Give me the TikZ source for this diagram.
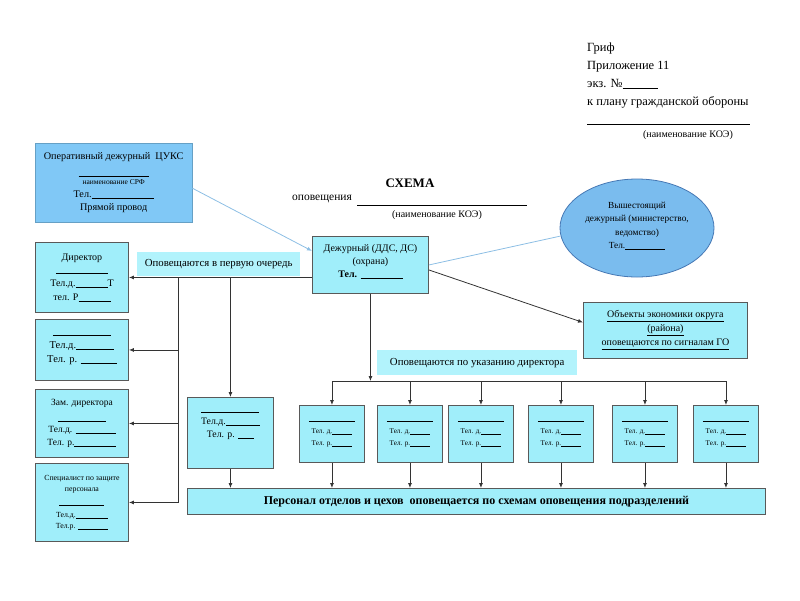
\documentclass[tikz,border=0pt]{standalone}
\usepackage{fontspec}
\setmainfont{Liberation Serif}
\usetikzlibrary{arrows.meta,shapes.geometric}
\definecolor{cyanbox}{RGB}{160,238,250}
\definecolor{lblfill}{RGB}{178,243,252}
\definecolor{cuksfill}{RGB}{128,200,246}
\definecolor{ellfill}{RGB}{122,188,238}
\definecolor{ellbord}{RGB}{70,120,180}
\definecolor{conn}{RGB}{140,190,228}
\newcommand\blank[1]{\rule[-1pt]{#1}{0.5pt}}
\newcommand\fs[2]{\fontsize{#1}{#2}\selectfont}
\begin{document}
\begin{tikzpicture}[x=1pt,y=-1pt,
 box/.style={draw=black!65, line width=0.9pt, fill=cyanbox, anchor=north west, inner sep=0pt, align=center},
 lbl/.style={fill=lblfill, anchor=north west, inner sep=0pt, font=\fs{10.8}{12}},
 arr/.style={-{Latex[length=5pt,width=4pt]}, line width=0.8pt, draw=black!80},
 ln/.style={line width=0.8pt, draw=black!80},
 blueln/.style={line width=0.8pt, draw=conn},
 txt/.style={inner sep=0pt}]
\useasboundingbox (0,0) rectangle (800,600);

% top right block
\node[txt, anchor=north west, align=left, font=\fs{12.5}{18}] (grif) at (587,43)
  {Гриф\\Приложение 11\\экз. №\blank{35pt}\\к плану гражданской обороны};
\draw[line width=0.5pt] (587,124) -- (750,124);
\node[txt, font=\fs{10}{11}] (koe1) at (688,135) {(наименование КОЭ)};

% title
\node[txt, font=\fs{13}{15}\bfseries] (title) at (410,183) {СХЕМА};
\node[txt, font=\fs{11.5}{13}] (opov) at (322,199) {оповещения};
\draw[line width=0.5pt] (357,205) -- (527,205);
\node[txt, font=\fs{10}{11}] (koe2) at (437,215) {(наименование КОЭ)};

% CUKS
\node[box, draw=cuksfill!80!black, line width=0.3pt, fill=cuksfill, minimum width=157pt, minimum height=79pt, font=\fs{10.2}{13}] (cuks) at (35,143)
  {Оперативный дежурный\ \ ЦУКС\\[3pt]\blank{70pt}\\[-4pt]{\fs{7.5}{8}наименование СРФ}\\Тел.\blank{62pt}\\Прямой провод};

% ellipse
\node[ellipse, draw=ellbord, line width=0.8pt, fill=ellfill, minimum width=154pt, minimum height=98pt, align=center, inner sep=0pt, font=\fs{9.3}{13.2}] (ell) at (637,228)
  {Вышестоящий\\дежурный (министерство,\\ведомство)\\Тел.\blank{40pt}\\[-8pt]};

% duty
\node[box, minimum width=116pt, minimum height=57pt, font=\fs{10}{13}] (duty) at (312,236)
  {Дежурный (ДДС, ДС)\\(охрана)\\\textbf{Тел. \blank{42pt}}\\[-5pt]};

% objects
\node[box, minimum width=164pt, minimum height=56pt, font=\fs{10}{14}] (obj) at (583,302)
  {\underline{Объекты экономики округа}\\\underline{(района)}\\\underline{оповещаются по сигналам ГО}};

% labels
\node[lbl, minimum width=163pt, minimum height=24pt] (lbl1) at (137,252) {Оповещаются в первую очередь};
\node[lbl, minimum width=200pt, minimum height=25pt] (lbl2) at (377,350) {Оповещаются по указанию директора};

% left column
\node[box, minimum width=93pt, minimum height=70pt, font=\fs{10}{14}] (dir) at (35,242)
  {Директор\\[-2pt]\blank{52pt}\\Тел.д.\blank{32pt}Т\\тел. Р\blank{32pt}};
\node[box, minimum width=93pt, minimum height=61pt, font=\fs{10.5}{14}] (box2) at (35,319)
  {\blank{58pt}\\Тел.д.\blank{38pt}\\Тел. р. \blank{36pt}};
\node[box, minimum width=93pt, minimum height=68pt, font=\fs{9.5}{12.5}] (zam) at (35,389)
  {Зам. директора\\[2pt]\blank{48pt}\\Тел.д. \blank{40pt}\\Тел. р.\blank{42pt}};
\node[box, minimum width=93pt, minimum height=78pt, font=\fs{7.8}{11}] (spec) at (35,463)
  {Специалист по защите\\персонала\\[2pt]\blank{45pt}\\[2pt]Тел.д.\blank{32pt}\\Тел.р. \blank{30pt}};

% middle box
\node[box, minimum width=86pt, minimum height=71pt, font=\fs{9.8}{13}] (mid) at (187,397)
  {\blank{58pt}\\Тел.д.\blank{34pt}\\Тел. р. \blank{16pt}\\[4pt]};

% six boxes
\foreach \n/\x in {b1/299,b2/377,b3/448,b4/528,b5/612,b6/693}{
  \node[box, minimum width=65pt, minimum height=57pt, font=\fs{7.2}{12.5}] (\n) at (\x,405)
    {\blank{46pt}\\Тел. д.\blank{20pt}\\Тел. р.\blank{20pt}};
}

% bottom bar
\node[box, minimum width=578pt, minimum height=26pt, font=\fs{12}{13}\bfseries] (bar) at (187,488)
  {Персонал отделов и цехов\ \ оповещается по схемам оповещения подразделений};

% blue connectors
\draw[blueln, -{Latex[length=5pt,width=4pt]}] ([yshift=-5.5pt]cuks.east) -- ([yshift=14pt]duty.west);
\draw[blueln] (ell.186) -- (duty.east);

% duty -> objects
\draw[arr] ([yshift=-5pt]duty.east) -- ([yshift=8pt]obj.west);

% first-priority distribution
\coordinate (c1) at (178,277);
\coordinate (c2) at (mid.north |- dir.east);
\draw[arr] (duty.west |- dir.east) -- (dir.east);
\draw[arr] (c1) |- (spec.east);
\draw[arr] (c1 |- box2.east) -- (box2.east);
\draw[arr] (c1 |- zam.east) -- (zam.east);
\draw[arr] (c2) -- (mid.north);

% director-instructed distribution
\coordinate (hb) at (duty.south |- 0,381);
\draw[arr] (duty.south) -- (hb);
\draw[ln] (b1.north |- hb) -- (b6.north |- hb);
\foreach \n in {b1,b2,b3,b4,b5,b6}{
  \draw[arr] (\n.north |- hb) -- (\n.north);
  \draw[arr] (\n.south) -- (\n.south |- bar.north);
}
\draw[arr] (mid.south) -- (mid.south |- bar.north);
\end{tikzpicture}
\end{document}
